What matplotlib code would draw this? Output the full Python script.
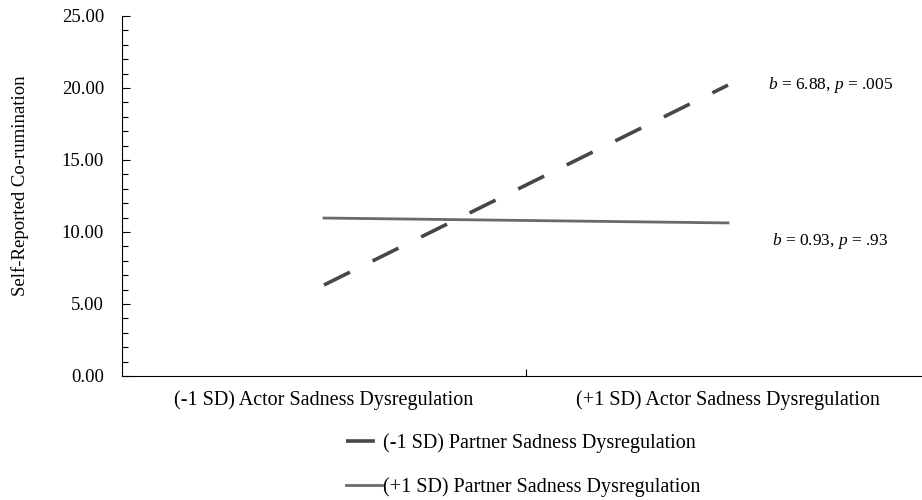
import matplotlib
matplotlib.use("Agg")
import matplotlib.pyplot as plt
from matplotlib.ticker import MultipleLocator, FixedLocator, NullFormatter

plt.rcParams["font.family"] = ["Liberation Serif", "DejaVu Serif"]
plt.rcParams["mathtext.fontset"] = "custom"
plt.rcParams["mathtext.rm"] = "Liberation Serif"
plt.rcParams["mathtext.it"] = "Liberation Serif:italic"

categories = ["(-1 SD) Actor Sadness Dysregulation", "(+1 SD) Actor Sadness Dysregulation"]
low_partner = [6.32, 20.2]
high_partner = [10.97, 10.63]
series_labels = ["(-1 SD) Partner Sadness Dysregulation", "(+1 SD) Partner Sadness Dysregulation"]
annotations = ["$b$ = 6.88, $p$ = .005", "$b$ = 0.93, $p$ = .93"]

fig = plt.figure(figsize=(9.22, 5.0), dpi=100)
ax = fig.add_axes([122 / 922, 1 - 376 / 500, (922 - 122) / 922, 360 / 500])

xpos = [0.5, 1.5]
ax.plot(xpos, low_partner, color="#474747", lw=2.6, dashes=(8, 7), label=series_labels[0])
ax.plot(xpos, high_partner, color="#6a6a6a", lw=2, label=series_labels[1])

ax.set_ylim(0, 25)
ax.set_xlim(0, 800 / 404)
ax.yaxis.set_major_locator(MultipleLocator(5))
ax.yaxis.set_minor_locator(MultipleLocator(1))
ax.yaxis.set_major_formatter(plt.FuncFormatter(lambda v, p: f"{v:.2f}"))
ax.tick_params(axis="y", which="major", direction="in", length=6, width=0.8, labelsize=13.5, pad=13)
ax.tick_params(axis="y", which="minor", direction="in", length=4, width=0.8)

ax.xaxis.set_major_locator(FixedLocator([1.0]))
ax.xaxis.set_major_formatter(NullFormatter())
ax.tick_params(axis="x", direction="in", length=5, width=0.8)
for x, lab in zip(xpos, categories):
    ax.text(x, -1.0, lab, ha="center", va="top", fontsize=14.5)

for s in ["top", "right"]:
    ax.spines[s].set_visible(False)

ax.set_ylabel("Self-Reported Co-rumination", fontsize=13.5)
ax.yaxis.set_label_coords(-0.116, 0.53)

ax.text(1.6, low_partner[1], annotations[0], fontsize=12.5, va="center", ha="left")
ax.text(1.61, 9.4, annotations[1], fontsize=12.5, va="center", ha="left")

fig.legend(loc="upper left", bbox_to_anchor=(338 / 922, 1 - 425 / 500), frameon=False,
           fontsize=14.5, handlelength=1.8, handletextpad=0.05, labelspacing=1.2,
           borderaxespad=0)

fig.savefig("out.png", dpi=100)
